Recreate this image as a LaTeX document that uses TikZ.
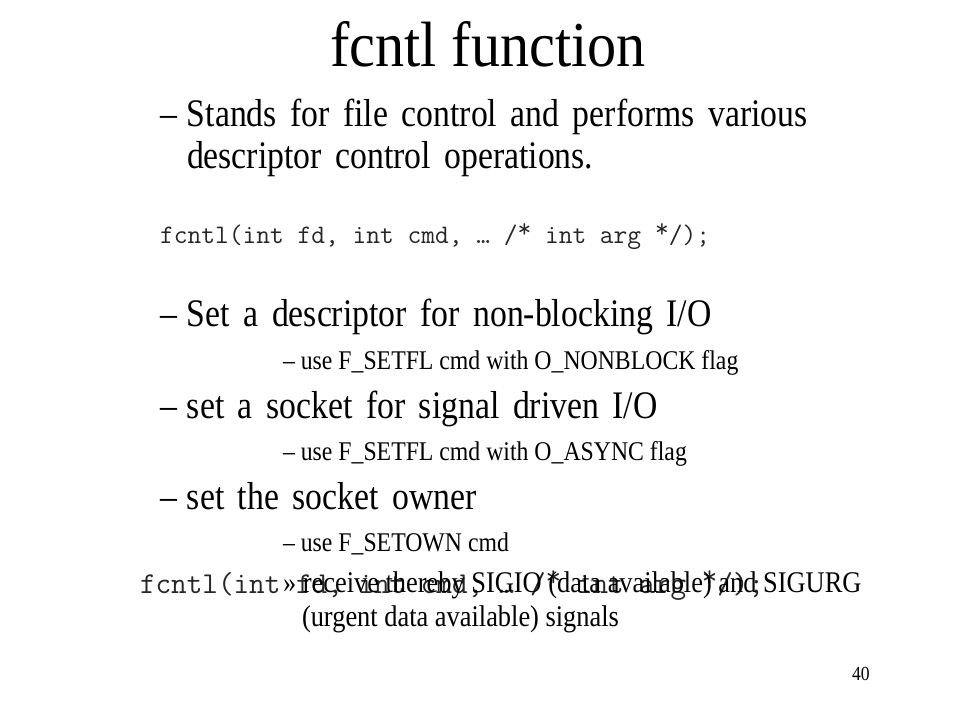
\documentclass[tikz,border=0pt]{standalone}
\usepackage{fontspec}
\setmainfont{Liberation Serif}
\newcommand\sqz[2][0.88]{\scalebox{#1}[1]{#2}}
\newcommand\wide{\spaceskip=0.4em plus 0em minus 0em\relax}
\newcommand\hiast{\raisebox{0.22em}{*}}
\tikzset{
  txt/.style={anchor=base west, inner sep=0pt, outer sep=0pt},
  ttl/.style={anchor=base, inner sep=0pt, font=\fontsize{64pt}{66pt}\selectfont},
  lone/.style={txt, font=\fontsize{39pt}{41pt}\selectfont\wide},
  ltwo/.style={txt, font=\fontsize{27pt}{29pt}\selectfont},
  lthree/.style={txt, font=\fontsize{30pt}{32pt}\selectfont},
  code/.style={txt, text=black!85, font=\ttfamily\fontsize{26.7pt}{28pt}\selectfont},
  bigcode/.style={txt, text=black!85, font=\ttfamily\fontsize{30.3pt}{32pt}\selectfont},
}
\begin{document}
\begin{tikzpicture}[x=1pt,y=-1pt]
\useasboundingbox[fill=white] (0,0) rectangle (960,720);
\node[ttl] (title) at (488,66) {\sqz[0.91]{fcntl function}};
\node[lone] (a1) at (160,126) {\sqz[0.865]{–\hspace{0.3em}Stands for file control and performs various}};
\node[lone] (a2) at (187,168) {\sqz[0.865]{descriptor control operations.}};
\node[code] (c1) at (160,243) {fcntl(int fd, int cmd, … /\hiast{} int arg \hiast/);};
\node[lone] (b1) at (160,326) {\sqz[0.865]{–\hspace{0.3em}Set a descriptor for non-blocking I/O}};
\node[ltwo] (b2) at (283,369) {\sqz{– use F\_SETFL cmd with O\_NONBLOCK flag}};
\node[lone] (d1) at (160,418) {\sqz[0.865]{–\hspace{0.3em}set a socket for signal driven I/O}};
\node[ltwo] (d2) at (283,460) {\sqz{– use F\_SETFL cmd with O\_ASYNC flag}};
\node[lone] (e1) at (160,509) {\sqz[0.865]{–\hspace{0.3em}set the socket owner}};
\node[ltwo] (e2) at (283,551) {\sqz{– use F\_SETOWN cmd}};
\node[bigcode] (c2) at (140,593) {fcntl(int fd, int cmd, … /\hiast{} int arg \hiast/);};
\node[lthree] (e3) at (283,592) {\sqz{» receive thereby SIGIO (data available) and SIGURG}};
\node[lthree] (e4) at (302,626) {\sqz{(urgent data available) signals}};
\node[txt, font=\fontsize{20pt}{22pt}\selectfont] (pg) at (852,680) {\sqz{40}};
\end{tikzpicture}
\end{document}
